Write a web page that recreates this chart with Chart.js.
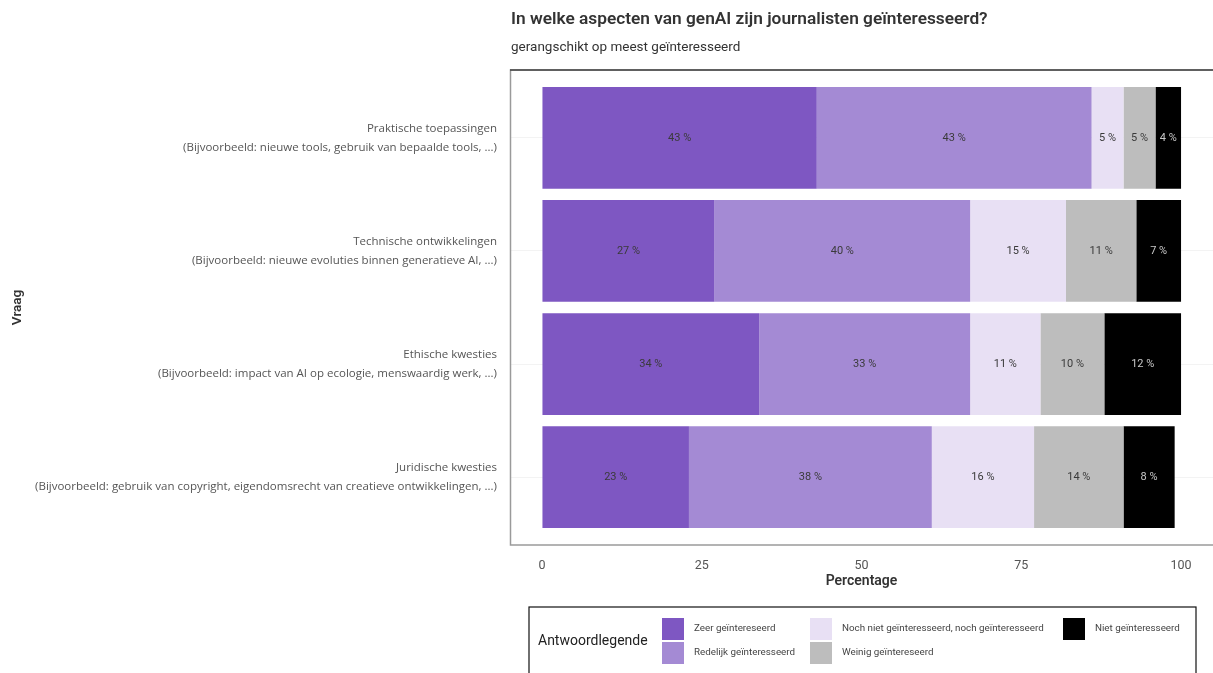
<!DOCTYPE html>
<html>
<head>
<meta charset="utf-8">
<title>genAI interesse</title>
<script src="https://cdn.jsdelivr.net/npm/chart.js@4/dist/chart.umd.min.js"></script>
<style>
  html, body { margin: 0; padding: 0; background: #fff; }
  #wrap { width: 1213px; height: 673px; position: relative; }
</style>
</head>
<body>
<div id="wrap"><canvas id="chart"></canvas></div>
<script>
// Questions (top to bottom) and answer shares in percent
const questions = [
  ["Praktische toepassingen", "(Bijvoorbeeld: nieuwe tools, gebruik van bepaalde tools, ...)"],
  ["Technische ontwikkelingen", "(Bijvoorbeeld: nieuwe evoluties binnen generatieve AI, ...)"],
  ["Ethische kwesties", "(Bijvoorbeeld: impact van AI op ecologie, menswaardig werk, ...)"],
  ["Juridische kwesties", "(Bijvoorbeeld: gebruik van copyright, eigendomsrecht van creatieve ontwikkelingen, ...)"],
];
const zeer = [43, 27, 34, 23];
const redelijk = [43, 40, 33, 38];
const neutraal = [5, 15, 11, 16];
const weinig = [5, 11, 10, 14];
const niet = [4, 7, 12, 8];

const answerLabels = [
  "Zeer geïntereseerd",
  "Redelijk geïnteresseerd",
  "Noch niet geïnteresseerd, noch geïnteresseerd",
  "Weinig geïntereseerd",
  "Niet geïnteresseerd",
];
const answerColors = ["#7e57c2", "#a48ad4", "#e8e0f4", "#bdbdbd", "#000000"];
const xTicks = [0, 25, 50, 75, 100];

const FONT = "Roboto, 'Noto Sans', sans-serif";
const LABEL_FONT = "'Open Sans', 'Noto Sans', sans-serif";

function toPoints(values) {
  return values.map((v, i) => ({ x: v, y: i }));
}

const seriesValues = [zeer, redelijk, neutraal, weinig, niet];

// Panel frame, title and subtitle drawn around the chart area
const framePlugin = {
  id: "frame",
  beforeDatasetsDraw(chart) {
    const { ctx, chartArea } = chart;
    ctx.save();
    ctx.strokeStyle = "#9a9a9a";
    ctx.lineWidth = 1.5;
    ctx.strokeRect(chartArea.left + 0.5, chartArea.top, chartArea.right - chartArea.left + 4, chartArea.bottom - chartArea.top);
    ctx.strokeStyle = "#444";
    ctx.lineWidth = 1.5;
    ctx.beginPath();
    ctx.moveTo(chartArea.left, chartArea.top);
    ctx.lineTo(chartArea.right, chartArea.top);
    ctx.stroke();
    ctx.restore();
  },
  afterDraw(chart) {
    const { ctx, chartArea } = chart;
    ctx.save();
    ctx.fillStyle = "#333";
    ctx.textBaseline = "middle";
    ctx.textAlign = "left";
    ctx.font = "600 17.3px " + FONT;
    ctx.fillText("In welke aspecten van genAI zijn journalisten geïnteresseerd?", chartArea.left + 1, 20);
    ctx.font = "13.5px " + FONT;
    ctx.fillText("gerangschikt op meest geïnteresseerd", chartArea.left + 1, 48);
    ctx.restore();
  },
};

// Percentage labels in the middle of each segment
const valueLabelPlugin = {
  id: "valueLabels",
  afterDatasetsDraw(chart) {
    const { ctx } = chart;
    ctx.save();
    ctx.font = "11px " + FONT;
    ctx.textAlign = "center";
    ctx.textBaseline = "middle";
    chart.data.datasets.forEach((ds, di) => {
      const meta = chart.getDatasetMeta(di);
      meta.data.forEach((bar, i) => {
        const v = ds.data[i].x;
        ctx.fillStyle = ds.backgroundColor === "#000000" ? "#c8c8c8" : "#3a3a3a";
        ctx.fillText(v + " %", (bar.x + bar.base) / 2, bar.y);
      });
    });
    ctx.restore();
  },
};

// Boxed legend below the chart, two rows filled column by column
const boxLegendPlugin = {
  id: "boxLegend",
  afterDraw(chart) {
    const { ctx, chartArea } = chart;
    const top = chartArea.bottom + 62;
    const left = chartArea.left + 19;
    ctx.save();
    ctx.strokeStyle = "#111";
    ctx.lineWidth = 1.2;
    ctx.strokeRect(left, top, 667, 80);
    ctx.fillStyle = "#222";
    ctx.textBaseline = "middle";
    ctx.font = "14px " + FONT;
    ctx.fillText("Antwoordlegende", left + 9, top + 34);
    const colX = [left + 133, left + 281, left + 534];
    const sw = 22;
    ctx.font = "9.8px " + FONT;
    chart.data.datasets.forEach((ds, i) => {
      const col = Math.floor(i / 2);
      const row = i % 2;
      const x = colX[col];
      const y = top + 11 + row * 24;
      ctx.fillStyle = ds.backgroundColor;
      ctx.fillRect(x, y, sw, sw);
      ctx.fillStyle = "#444";
      ctx.fillText(ds.label, x + sw + 10, y + sw / 2);
    });
    ctx.restore();
  },
};

new Chart(document.getElementById("chart"), {
  type: "bar",
  data: {
    datasets: seriesValues.map((vals, i) => ({
      label: answerLabels[i],
      data: toPoints(vals),
      backgroundColor: answerColors[i],
      borderWidth: 0,
      barPercentage: 0.9,
      categoryPercentage: 1,
    })),
  },
  options: {
    indexAxis: "y",
    responsive: true,
    maintainAspectRatio: false,
    animation: false,
    layout: { padding: { top: 70, right: 0, bottom: 73, left: 0 } },
    plugins: {
      legend: { display: false },
      tooltip: { enabled: false },
    },
    scales: {
      x: {
        type: "linear",
        stacked: true,
        min: -5,
        max: 105,
        afterBuildTicks: (scale) => {
          scale.ticks = xTicks.map((v) => ({ value: v }));
        },
        afterFit: (scale) => {
          scale.height = 55;
        },
        border: { display: false },
        grid: { color: "rgba(0,0,0,0)", drawTicks: false },
        ticks: { color: "#555", font: { family: FONT, size: 12.5 }, padding: 13, maxRotation: 0 },
        title: {
          display: true,
          text: "Percentage",
          color: "#333",
          font: { family: FONT, size: 14, weight: "600" },
          padding: { top: 0, bottom: 10 },
        },
      },
      y: {
        type: "linear",
        stacked: true,
        reverse: true,
        offset: false,
        min: -0.6,
        max: 3.6,
        afterBuildTicks: (scale) => {
          scale.ticks = questions.map((q, i) => ({ value: i }));
        },
        afterFit: (scale) => {
          scale.width = 510;
        },
        border: { display: false },
        grid: { color: "#f3f3f3", drawTicks: false, offset: false },
        ticks: {
          color: "#555",
          font: { family: LABEL_FONT, size: 11.5, lineHeight: 1.65 },
          padding: 13,
          callback: (v) => questions[v],
        },
        title: {
          display: true,
          text: "Vraag",
          color: "#333",
          font: { family: FONT, size: 13.5, weight: "600" },
          padding: { top: 10, bottom: 0 },
        },
      },
    },
  },
  plugins: [framePlugin, valueLabelPlugin, boxLegendPlugin],
});
</script>
</body>
</html>
